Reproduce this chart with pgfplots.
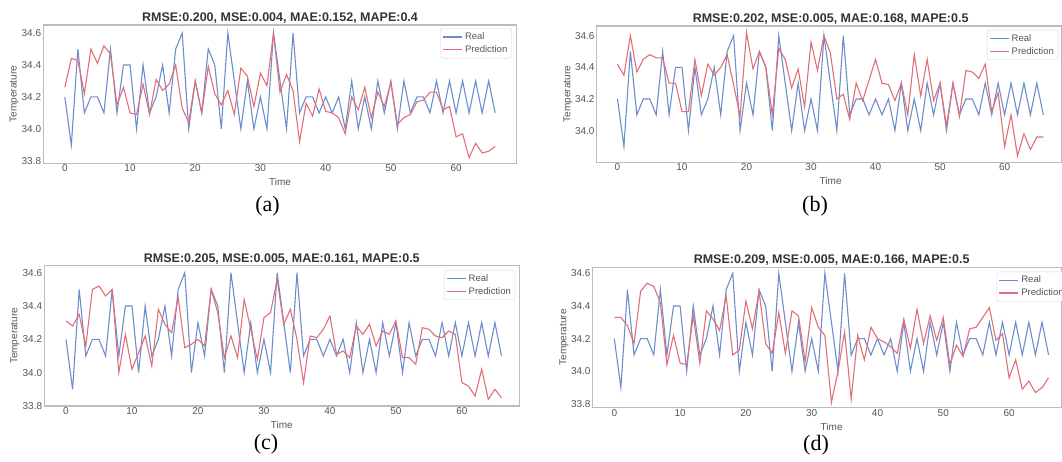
\documentclass[border=0pt]{standalone}
\usepackage{fontspec}
\setmainfont{Liberation Sans}
\newfontfamily\capfont{Liberation Serif}
\usepackage{pgfplots}
\usepackage{pgfplotstable}
\pgfplotsset{compat=1.18}
\definecolor{creal}{RGB}{108,142,204}
\definecolor{cpred}{RGB}{226,110,120}
\definecolor{spine}{RGB}{188,188,188}
\definecolor{ticktext}{RGB}{85,85,85}
\definecolor{legframe}{RGB}{215,215,215}

\pgfplotstableread{
x real pa pb pc pd
0 34.2 34.26 34.42 34.31 34.33
1 33.9 34.44 34.35 34.28 34.33
2 34.5 34.43 34.60 34.35 34.28
3 34.1 34.22 34.37 34.16 34.17
4 34.2 34.50 34.45 34.50 34.49
5 34.2 34.41 34.48 34.52 34.54
6 34.1 34.52 34.46 34.46 34.52
7 34.5 34.47 34.46 34.50 34.42
8 34.1 34.15 34.30 34.00 34.04
9 34.4 34.26 34.30 34.23 34.22
10 34.4 34.10 34.12 34.02 34.05
11 34.0 34.09 34.12 34.12 34.04
12 34.4 34.28 34.45 34.22 34.34
13 34.1 34.09 34.22 34.04 34.05
14 34.2 34.31 34.42 34.38 34.37
15 34.4 34.24 34.35 34.29 34.32
16 34.1 34.28 34.40 34.24 34.25
17 34.5 34.40 34.48 34.45 34.46
18 34.6 34.13 34.29 34.15 34.10
19 34.0 34.04 34.09 34.17 34.13
20 34.3 34.30 34.62 34.20 34.43
21 34.1 34.10 34.39 34.16 34.26
22 34.5 34.39 34.50 34.50 34.49
23 34.4 34.22 34.40 34.36 34.17
24 34.0 34.15 34.10 34.09 34.11
25 34.6 34.24 34.52 34.22 34.36
26 34.3 34.09 34.45 34.09 34.11
27 34.0 34.38 34.27 34.44 34.37
28 34.3 34.33 34.39 34.26 34.34
29 34.0 34.14 34.15 34.08 34.06
30 34.2 34.35 34.56 34.33 34.39
31 34.0 34.27 34.38 34.36 34.27
32 34.6 34.60 34.60 34.56 34.22
33 34.3 34.23 34.49 34.29 33.81
34 34.0 34.34 34.20 34.38 34.00
35 34.6 34.24 34.23 34.20 34.24
36 34.1 33.92 34.07 33.94 33.83
37 34.2 34.16 34.30 34.22 34.22
38 34.2 34.08 34.19 34.21 34.07
39 34.1 34.25 34.32 34.26 34.27
40 34.2 34.11 34.45 34.34 34.20
41 34.1 34.10 34.30 34.11 34.18
42 34.2 34.07 34.29 34.13 34.15
43 34.0 33.97 34.19 34.09 34.11
44 34.3 34.20 34.30 34.28 34.32
45 34.0 34.12 34.10 34.23 34.14
46 34.2 34.26 34.48 34.29 34.38
47 34.0 34.07 34.22 34.16 34.17
48 34.3 34.23 34.45 34.25 34.34
49 34.1 34.14 34.19 34.23 34.19
50 34.3 34.29 34.30 34.31 34.33
51 34.0 34.03 34.03 34.09 34.04
52 34.3 34.07 34.30 34.09 34.16
53 34.1 34.09 34.09 34.05 34.09
54 34.2 34.17 34.38 34.27 34.26
55 34.2 34.18 34.37 34.26 34.27
56 34.1 34.23 34.33 34.22 34.33
57 34.3 34.23 34.42 34.21 34.39
58 34.1 34.12 34.12 34.25 34.19
59 34.3 34.14 34.24 34.23 34.23
60 34.1 33.95 33.90 33.94 33.96
61 34.3 33.97 34.10 33.92 34.07
62 34.1 33.82 33.84 33.86 33.89
63 34.3 33.91 33.98 34.02 33.94
64 34.1 33.85 33.88 33.84 33.87
65 34.3 33.86 33.96 33.90 33.90
66 34.1 33.89 33.96 33.85 33.96
}\data

\pgfplotsset{
  panel/.style={
    scale only axis,
    axis line style={draw=spine, line width=1.3pt},
    major tick length=0pt,
    xtick={0,10,20,30,40,50,60},
    ytick={33.8,34,34.2,34.4,34.6},
    /pgf/number format/assume math mode=true,
    yticklabel style={/pgf/number format/fixed, /pgf/number format/fixed zerofill, /pgf/number format/precision=1, inner sep=2pt},
    xticklabel style={inner sep=1.5pt},
    ticklabel style={font=\fontsize{10}{12}\selectfont, text=ticktext},
    xlabel={Time}, ylabel={Temperature},
    xlabel style={at={(axis description cs:0.5,-0.134)}, anchor=center, font=\fontsize{10}{12}\selectfont, text=ticktext},
    ylabel style={at={(axis description cs:-0.0615,0.5)}, anchor=center, font=\fontsize{10}{12}\selectfont, text=ticktext},
    title style={at={(axis description cs:0.5,1)}, anchor=base, yshift=-2.6pt, font=\bfseries\fontsize{12.5}{14}\selectfont, text=black!80},
    legend cell align=left,
    legend image code/.code={\draw[#1, line width=1.4pt] (0pt,0pt) -- (19pt,0pt);},
    legend style={draw=legframe, rounded corners=2pt, fill=white,
      font=\fontsize{9.5}{11}\selectfont, text=ticktext,
      inner xsep=2pt, inner ysep=2pt, row sep=0pt,
      nodes={inner sep=2.2pt}},
    clip=true,
  },
}

\begin{document}
\begin{tikzpicture}
\useasboundingbox (0,0) rectangle (1062pt,462pt);
\clip (0,0) rectangle (1062pt,462pt);

% (a)
\begin{axis}[panel, at={(43.3pt,298.7pt)}, anchor=south west,
  width=473.4pt, height=138.3pt,
  xmin=-3.3, xmax=69.3, ymin=33.785, ymax=34.65,
  title={RMSE:0.200, MSE:0.004, MAE:0.152, MAPE:0.4},
  legend style={at={(1,1)}, anchor=north east, xshift=-5pt, yshift=-3.3pt}]
\addplot[draw=creal, line width=1.1pt] table[x=x,y=real]{\data};
\addplot[draw=cpred, line width=1.1pt] table[x=x,y=pa]{\data};
\legend{Real,Prediction}
\end{axis}

% (b)
\begin{axis}[panel, at={(596.7pt,299.7pt)}, anchor=south west,
  width=465.3pt, height=136.3pt,
  xmin=-3.22, xmax=68.9, ymin=33.80, ymax=34.661,
  ytick={34,34.2,34.4,34.6},
  title style={xshift=1.3pt}, xlabel style={xshift=1.3pt},
  title={RMSE:0.202, MSE:0.005, MAE:0.168, MAPE:0.5},
  legend style={at={(1,1)}, anchor=north east, xshift=-3.7pt, yshift=-4pt}]
\addplot[draw=creal, line width=1.1pt] table[x=x,y=real]{\data};
\addplot[draw=cpred, line width=1.1pt] table[x=x,y=pb]{\data};
\legend{Real,Prediction}
\end{axis}

% (c)
\begin{axis}[panel, at={(44.3pt,56pt)}, anchor=south west,
  width=475pt, height=140.3pt,
  xmin=-3.29, xmax=68.7, ymin=33.8, ymax=34.642,
  title={RMSE:0.205, MSE:0.005, MAE:0.161, MAPE:0.5},
  legend style={at={(1,1)}, anchor=north east, xshift=-4pt, yshift=-4.3pt}]
\addplot[draw=creal, line width=1.1pt] table[x=x,y=real]{\data};
\addplot[draw=cpred, line width=1.1pt] table[x=x,y=pc]{\data};
\legend{Real,Prediction}
\end{axis}

% (d)
\begin{axis}[panel, at={(592.7pt,54.3pt)}, anchor=south west,
  width=469.3pt, height=140.4pt,
  xmin=-3.28, xmax=68.04, ymin=33.777, ymax=34.637,
  title style={xshift=4.3pt}, xlabel style={xshift=4.3pt},
  title={RMSE:0.209, MSE:0.005, MAE:0.166, MAPE:0.5},
  legend style={at={(1,1)}, anchor=north east, xshift=6pt, yshift=-4.4pt}]
\addplot[draw=creal, line width=1.1pt] table[x=x,y=real]{\data};
\addplot[draw=cpred, line width=1.1pt] table[x=x,y=pd]{\data};
\legend{Real,Prediction}
\end{axis}

\node[font=\capfont\fontsize{22}{24}\selectfont, anchor=center] at (267.5pt,255.3pt) {(a)};
\node[font=\capfont\fontsize{22}{24}\selectfont, anchor=center] at (815pt,255.3pt) {(b)};
\node[font=\capfont\fontsize{22}{24}\selectfont, anchor=center] at (266pt,17.5pt) {(c)};
\node[font=\capfont\fontsize{22}{24}\selectfont, anchor=center] at (816pt,17pt) {(d)};
\end{tikzpicture}
\end{document}
